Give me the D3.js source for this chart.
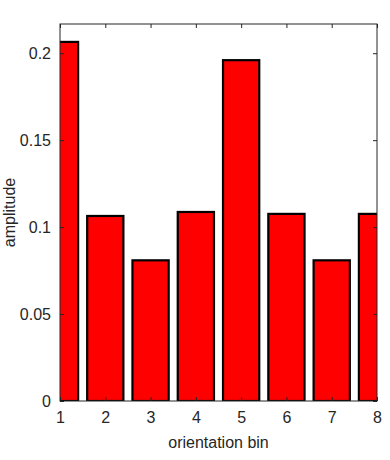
<!DOCTYPE html>
<html><head><meta charset="utf-8">
<script src="https://cdn.jsdelivr.net/npm/d3@7"></script>
<style>body{margin:0;background:#fff}svg{display:block}text{font-family:"Liberation Sans",Arial,sans-serif;fill:#262626}</style>
</head><body>
<script>
const bins = [1,2,3,4,5,6,7,8];
const amplitude = [0.2065,0.1064,0.0809,0.1087,0.1960,0.1076,0.0809,0.1076];
const xTicks = [1,2,3,4,5,6,7,8];
const yTicks = [0,0.05,0.1,0.15,0.2];
const yTickLabels = ["0","0.05","0.1","0.15","0.2"];
const xLabel = "orientation bin";
const yLabel = "amplitude";

const W=390,H=460;
const L=60,R=377,T=24,B=401;
const svg=d3.select("body").append("svg").attr("width",W).attr("height",H);
const x=d3.scaleLinear().domain([1,8]).range([L,R]);
const y=d3.scaleLinear().domain([0,0.2168]).range([B,T]);
const bw=0.8;

svg.append("clipPath").attr("id","clip").append("rect")
  .attr("x",L).attr("y",T).attr("width",R-L).attr("height",B-T);

svg.append("g").attr("clip-path","url(#clip)")
  .selectAll("rect").data(bins).join("rect")
  .attr("x",(d)=>x(d-bw/2))
  .attr("width",(d)=>x(d+bw/2)-x(d-bw/2))
  .attr("y",(d,i)=>y(amplitude[i]))
  .attr("height",(d,i)=>y(0)-y(amplitude[i]))
  .attr("fill","#ff0000").attr("stroke","#000").attr("stroke-width",2.2);

const ac="#262626";
svg.append("rect").attr("x",L).attr("y",T).attr("width",R-L).attr("height",B-T)
  .attr("fill","none").attr("stroke",ac).attr("stroke-width",1);

const tl=4;
const xb=d3.axisBottom(x).tickValues(xTicks).tickSize(-tl).tickPadding(11).tickFormat(d3.format("d"));
const gx=svg.append("g").attr("transform",`translate(0,${B})`).call(xb);
const xt=d3.axisTop(x).tickValues(xTicks).tickSize(-tl).tickFormat("");
const gxt=svg.append("g").attr("transform",`translate(0,${T})`).call(xt);
const yl=d3.axisLeft(y).tickValues(yTicks).tickSize(-tl).tickPadding(9).tickFormat((d,i)=>yTickLabels[i]);
const gy=svg.append("g").attr("transform",`translate(${L},0)`).call(yl);
const yr=d3.axisRight(y).tickValues(yTicks).tickSize(-tl).tickFormat("");
const gyr=svg.append("g").attr("transform",`translate(${R},0)`).call(yr);
[gx,gxt,gy,gyr].forEach(g=>{
  g.select(".domain").remove();
  g.selectAll(".tick line").attr("stroke",ac);
  g.selectAll("text").attr("font-size",16).attr("font-family","Liberation Sans, Arial, sans-serif").attr("fill",ac);
});
gx.selectAll(".tick text").attr("dy","0.71em");

svg.append("text").attr("x",(L+R)/2).attr("y",448).attr("text-anchor","middle")
  .attr("font-size",16).text(xLabel);
svg.append("text").attr("transform",`translate(15,${(T+B)/2}) rotate(-90)`)
  .attr("text-anchor","middle").attr("font-size",16).text(yLabel);
</script>
</body></html>
